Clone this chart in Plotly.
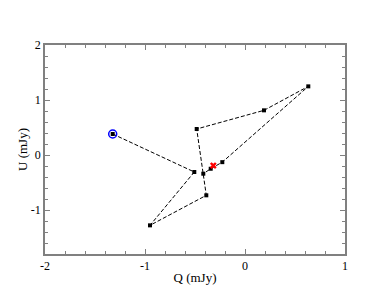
import plotly.graph_objects as go

# Q/U track (mJy), in time order
q_vals = [-1.323, -0.507, -0.950, -0.387, -0.483, 0.190, 0.633, -0.227, -0.343, -0.417]
u_vals = [0.382, -0.309, -1.279, -0.733, 0.473, 0.812, 1.248, -0.130, -0.250, -0.340]

start_q = [-1.323]
start_u = [0.382]

mark_q = [-0.317]
mark_u = [-0.192]

x_ticks = [-2, -1, 0, 1]
y_ticks = [-1, 0, 1, 2]

font = "Liberation Serif"

fig = go.Figure()
fig.add_trace(go.Scatter(
    x=q_vals, y=u_vals, mode="lines+markers",
    line=dict(color="black", width=1, dash="4px,2px"),
    marker=dict(symbol="square", size=4, color="black"),
))
fig.add_trace(go.Scatter(
    x=start_q, y=start_u, mode="markers",
    marker=dict(symbol="circle-open", size=8, color="blue", line=dict(width=1.5)),
))
fig.add_trace(go.Scatter(
    x=mark_q, y=mark_u, mode="markers",
    marker=dict(symbol="x", size=6, color="red", line=dict(width=0)),
))

axis = dict(
    showgrid=False, zeroline=False, showline=True, mirror="ticks",
    linecolor="#808080", linewidth=1.5, ticks="inside", ticklen=5, tickcolor="#808080",
    tickfont=dict(family=font, size=12, color="black"),
    minor=dict(ticks="inside", ticklen=3, dtick=0.2, tickcolor="#808080"),
)

fig.update_xaxes(axis, range=[-2, 1], tickvals=x_ticks, ticktext=[str(v) for v in x_ticks],
                 title=dict(text="Q (mJy)", font=dict(family=font, size=13, color="black"), standoff=1))
fig.update_yaxes(axis, range=[-1.8, 2], tickvals=y_ticks, ticktext=[str(v) for v in y_ticks],
                 title=dict(text="U (mJy)", font=dict(family=font, size=13, color="black"), standoff=0))

fig.update_layout(
    width=380, height=292,
    margin=dict(l=37, r=43, t=37, b=46),
    plot_bgcolor="white", paper_bgcolor="white",
    showlegend=False,
)

fig.write_html("out.html")
